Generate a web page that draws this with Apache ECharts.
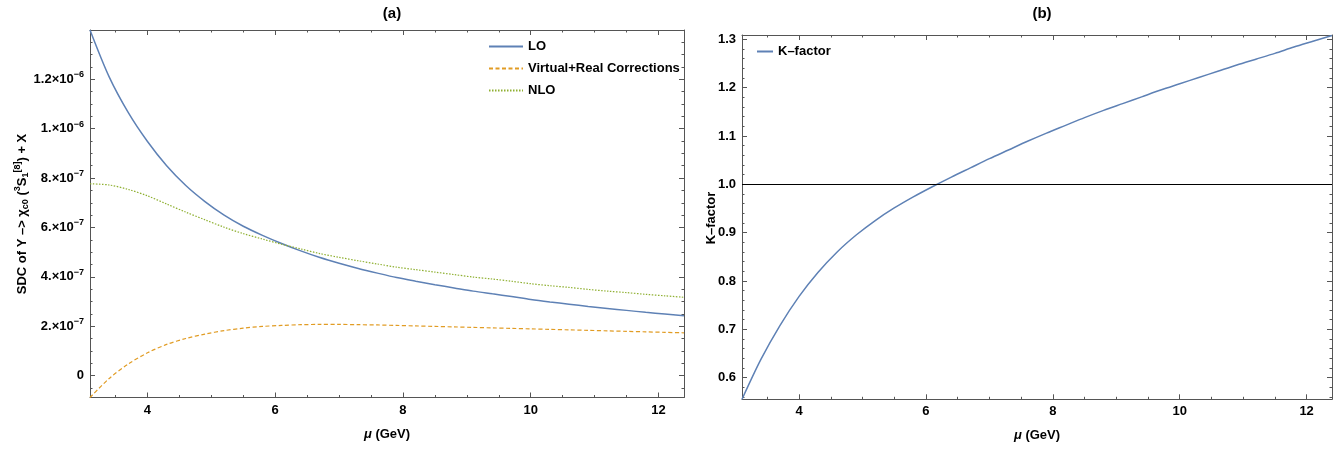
<!DOCTYPE html>
<html><head><meta charset="utf-8">
<script src="https://cdn.jsdelivr.net/npm/echarts@6/dist/echarts.min.js"></script>
<style>html,body{margin:0;padding:0;background:#fff}#c{width:1343px;height:450px}</style>
</head><body><div id="c"></div>
<script>
// ---- data ----
const mu  = [3.1, 3.4, 3.7, 4.0, 4.3, 4.6, 4.9, 5.2, 5.5, 5.8, 6.1, 6.4, 6.7, 7.0, 7.3, 7.6,
             7.9, 8.2, 8.5, 8.8, 9.1, 9.4, 9.7, 10.0, 10.3, 10.6, 10.9, 11.2, 11.5, 11.8, 12.1, 12.4];
const LO  = [14.0e-7, 12.1e-7, 10.65e-7, 9.48e-7, 8.5e-7, 7.7e-7, 7.05e-7, 6.5e-7, 6.05e-7, 5.68e-7, 5.35e-7, 5.05e-7, 4.78e-7, 4.55e-7, 4.34e-7, 4.15e-7,
             3.97e-7, 3.82e-7, 3.68e-7, 3.55e-7, 3.42e-7, 3.31e-7, 3.2e-7, 3.08e-7, 2.98e-7, 2.89e-7, 2.8e-7, 2.72e-7, 2.64e-7, 2.56e-7, 2.49e-7, 2.42e-7];
const VR  = [-0.89e-7, -0.12e-7, 0.47e-7, 0.92e-7, 1.26e-7, 1.5e-7, 1.68e-7, 1.82e-7, 1.92e-7, 1.99e-7, 2.03e-7, 2.06e-7, 2.07e-7, 2.07e-7, 2.06e-7, 2.05e-7,
             2.03e-7, 2.01e-7, 1.99e-7, 1.97e-7, 1.95e-7, 1.93e-7, 1.91e-7, 1.89e-7, 1.87e-7, 1.85e-7, 1.83e-7, 1.81e-7, 1.79e-7, 1.77e-7, 1.75e-7, 1.73e-7];
const NLO = [7.77e-7, 7.72e-7, 7.54e-7, 7.28e-7, 6.95e-7, 6.62e-7, 6.31e-7, 6.01e-7, 5.75e-7, 5.53e-7, 5.32e-7, 5.13e-7, 4.94e-7, 4.79e-7, 4.65e-7, 4.52e-7,
             4.39e-7, 4.29e-7, 4.19e-7, 4.09e-7, 3.99e-7, 3.91e-7, 3.82e-7, 3.72e-7, 3.64e-7, 3.57e-7, 3.49e-7, 3.42e-7, 3.36e-7, 3.29e-7, 3.23e-7, 3.17e-7];
const KF  = [0.555, 0.638, 0.708, 0.768, 0.818, 0.86, 0.895, 0.925, 0.951, 0.974, 0.995, 1.015, 1.034, 1.053, 1.071, 1.089,
             1.106, 1.122, 1.138, 1.153, 1.167, 1.181, 1.195, 1.208, 1.221, 1.234, 1.247, 1.259, 1.271, 1.284, 1.296, 1.308];

const xTicks = [4, 6, 8, 10, 12];
const xMinor = [3.5, 4.5, 5, 5.5, 6.5, 7, 7.5, 8.5, 9, 9.5, 10.5, 11, 11.5];
const yTicksA = [0, 2e-7, 4e-7, 6e-7, 8e-7, 1e-6, 1.2e-6];
const yMantA  = ['0', '2.', '4.', '6.', '8.', '1.', '1.2'];
const yExpA   = ['', '−7', '−7', '−7', '−7', '−6', '−6'];
const yTicksB = [0.6, 0.7, 0.8, 0.9, 1.0, 1.1, 1.2, 1.3];
const yLabB   = ['0.6', '0.7', '0.8', '0.9', '1.0', '1.1', '1.2', '1.3'];

const xMin = 3.1, xMax = 12.4;
const yMinA = -0.89e-7, yMaxA = 1.40e-6;
const yMinB = 0.555, yMaxB = 1.309;

function range(a, b, step) { const r = []; for (let i = 0; ; i++) { const v = +(a + i * step).toFixed(12); if (v > b + 1e-12) break; r.push(v); } return r; }
const yMinorA = range(-0.5e-7, 1.4e-6, 0.5e-7).filter(v => !yTicksA.some(t => Math.abs(t - v) < 1e-10));
const yMinorB = range(0.56, 1.30, 0.02).filter(v => !yTicksB.some(t => Math.abs(t - v) < 1e-6));

const FONT = '"Liberation Sans", Arial, sans-serif';
const AX = '#555';

function axesFor(gi, dim, min, max, majors, minors, labelCfg) {
  const pos = dim === 'x' ? ['bottom', 'top'] : ['left', 'right'];
  const base = { type: 'value', gridIndex: gi, min: min, max: max, splitLine: { show: false } };
  const mk = (p, vals, len, line, label) => Object.assign({}, base, {
    position: p,
    axisLine: { show: line, onZero: false, lineStyle: { color: AX, width: 1 } },
    axisTick: { show: true, inside: true, length: len, customValues: vals, lineStyle: { color: AX, width: 1 } },
    axisLabel: label ? Object.assign({ show: true, customValues: majors }, labelCfg) : { show: false }
  });
  return [
    mk(pos[0], majors, 5, true, true),
    mk(pos[0], minors, 2.5, false, false),
    mk(pos[1], majors, 5, true, false),
    mk(pos[1], minors, 2.5, false, false)
  ];
}

const xLabelCfg = { margin: 6, fontFamily: FONT, fontSize: 13, fontWeight: 'bold', color: '#000' };

const xAxes = [].concat(
  axesFor(0, 'x', xMin, xMax, xTicks, xMinor, xLabelCfg),
  axesFor(1, 'x', xMin, xMax, xTicks, xMinor, xLabelCfg)
);
[0, 4].forEach(i => Object.assign(xAxes[i], {
  name: '{i|μ} (GeV)', nameLocation: 'middle', nameGap: 30,
  nameTextStyle: { fontFamily: FONT, fontSize: 13, fontWeight: 'bold', color: '#000',
    rich: { i: { fontFamily: FONT, fontSize: 13, fontWeight: 'bold', fontStyle: 'italic', color: '#000' } } }
}));

function nearestIdx(arr, v) { let bi = 0, bd = Infinity; arr.forEach((t, i) => { const d = Math.abs(t - v); if (d < bd) { bd = d; bi = i; } }); return bi; }

const yAxes = [].concat(
  axesFor(0, 'y', yMinA, yMaxA, yTicksA, yMinorA, {
    margin: 6, color: '#000',
    formatter: v => { const i = nearestIdx(yTicksA, v); return yExpA[i] ? '{m|' + yMantA[i] + '×10}{e|' + yExpA[i] + '}' : '{m|' + yMantA[i] + '}'; },
    rich: {
      m: { fontFamily: FONT, fontSize: 13, fontWeight: 'bold', color: '#000' },
      e: { fontFamily: FONT, fontSize: 9, fontWeight: 'bold', color: '#000', padding: [0, 0, 9, 0] }
    }
  }),
  axesFor(1, 'y', yMinB, yMaxB, yTicksB, yMinorB, {
    margin: 6, fontFamily: FONT, fontSize: 13, fontWeight: 'bold', color: '#000',
    formatter: v => yLabB[nearestIdx(yTicksB, v)]
  })
);

const pts = arr => mu.map((m, i) => [m, arr[i]]);
const legendText = { fontFamily: FONT, fontSize: 13, fontWeight: 'bold', color: '#000' };

const option = {
  animation: false,
  backgroundColor: '#fff',
  title: [
    { text: '(a)', left: 387, top: 1, textAlign: 'center', textStyle: { fontFamily: FONT, fontSize: 15, fontWeight: 'bold', color: '#000' } },
    { text: '(b)', left: 1037, top: 1, textAlign: 'center', textStyle: { fontFamily: FONT, fontSize: 15, fontWeight: 'bold', color: '#000' } }
  ],
  grid: [
    { left: 90, right: 659, top: 30, bottom: 52.5 },
    { left: 742, right: 11, top: 35, bottom: 50.7 }
  ],
  xAxis: xAxes,
  yAxis: yAxes,
  legend: [
    { data: ['LO', 'Virtual+Real Corrections', 'NLO'], orient: 'vertical', left: 483, top: 35, itemWidth: 34, itemHeight: 12, itemGap: 9,
      itemStyle: { opacity: 0 }, textStyle: legendText },
    { data: ['K–factor'], orient: 'vertical', left: 751, top: 40, itemWidth: 16, itemHeight: 12,
      itemStyle: { opacity: 0 }, textStyle: legendText }
  ],
  graphic: [
    { type: 'text', x: 22, y: 214, rotation: Math.PI / 2,
      style: { text: '{n|SDC of Υ –> χ}{s|c0}{n| (}{p|3}{n|S}{s|1}{p|[8]}{n|) + X}', align: 'center', verticalAlign: 'middle',
        rich: {
          n: { fontFamily: FONT, fontSize: 13, fontWeight: 'bold', fill: '#000' },
          s: { fontFamily: FONT, fontSize: 9, fontWeight: 'bold', fill: '#000', padding: [7, 0, 0, 0] },
          p: { fontFamily: FONT, fontSize: 9, fontWeight: 'bold', fill: '#000', padding: [0, 0, 8, 0] }
        } } },
    { type: 'text', x: 711, y: 218, rotation: Math.PI / 2,
      style: { text: 'K–factor', align: 'center', verticalAlign: 'middle', fontFamily: FONT, fontSize: 13, fontWeight: 'bold', fill: '#000' } }
  ],
  series: [
    { name: 'LO', type: 'line', xAxisIndex: 0, yAxisIndex: 0, data: pts(LO), symbol: 'none', smooth: 0.3,
      lineStyle: { color: '#5e81b5', width: 1.5 }, itemStyle: { color: '#5e81b5' } },
    { name: 'Virtual+Real Corrections', type: 'line', xAxisIndex: 0, yAxisIndex: 0, data: pts(VR), symbol: 'none', smooth: 0.3,
      lineStyle: { color: '#e19c24', width: 1.2, type: [4, 2.5] }, itemStyle: { color: '#e19c24' } },
    { name: 'NLO', type: 'line', xAxisIndex: 0, yAxisIndex: 0, data: pts(NLO), symbol: 'none', smooth: 0.3,
      lineStyle: { color: '#8fb032', width: 1.2, type: [1.5, 1.5] }, itemStyle: { color: '#8fb032' } },
    { name: 'K–factor', type: 'line', xAxisIndex: 4, yAxisIndex: 4, data: pts(KF), symbol: 'none', smooth: 0.3,
      lineStyle: { color: '#5e81b5', width: 1.5 }, itemStyle: { color: '#5e81b5' },
      markLine: { silent: true, symbol: 'none', label: { show: false }, lineStyle: { color: '#000', type: 'solid', width: 1 }, data: [{ yAxis: 1 }] } }
  ]
};

const chart = echarts.init(document.getElementById('c'), null, { renderer: 'canvas' });
chart.setOption(option);
</script>
</body></html>
